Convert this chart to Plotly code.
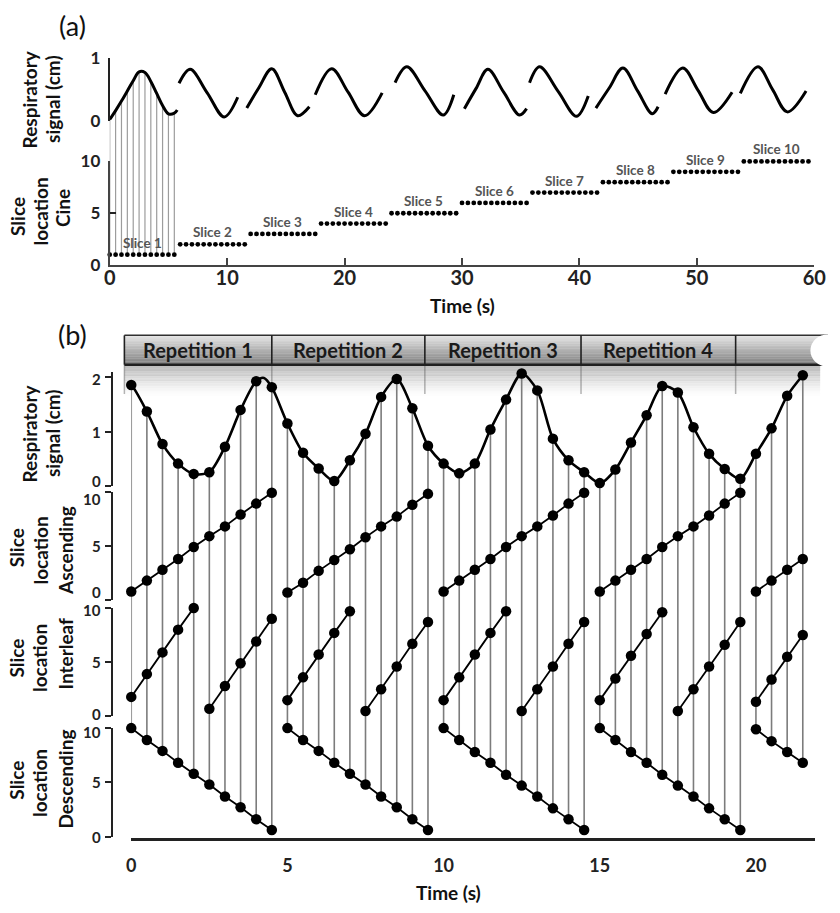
import plotly.graph_objects as go

W, H = 840, 913


def px(x):
    return x / W


def py(y):
    return 1 - y / H


# ======================= DATA : panel (a) =======================
cine_frame_offsets = [0, 0.5, 1, 1.5, 2, 2.5, 3, 3.5, 4, 4.5, 5, 5.5]
cine_slice_starts = [0, 6, 12, 18, 24, 30, 36, 42, 48, 54]
cine_slice_locations = [1, 2, 3, 4, 5, 6, 7, 8, 9, 10]
cine_slice_labels = ["Slice 1", "Slice 2", "Slice 3", "Slice 4", "Slice 5",
                     "Slice 6", "Slice 7", "Slice 8", "Slice 9", "Slice 10"]

# respiratory signal (cm) during each cine slice (one segment per slice)
resp_a_t = [
    [0, 0.5, 1, 1.5, 2, 2.5, 3, 3.5, 4, 4.5, 5, 5.5, 5.75],
    [5.9, 6.85, 8.3, 9.75, 10.9],
    [11.67, 12.7, 13.8, 14.9, 16.0, 17.0],
    [17.5, 18.9, 20.3, 21.7, 23.2],
    [24.3, 25.3, 26.85, 28.4, 29.3],
    [30.2, 31.2, 32.2, 33.55, 34.9, 35.5],
    [35.75, 36.6, 38.2, 39.75, 40.75],
    [41.4, 42.55, 43.7, 44.95, 46.2, 46.7],
    [47.3, 48.8, 50.1, 51.4, 53.0],
    [53.7, 55.2, 56.45, 57.7, 59.3],
]
resp_a_v = [
    [0.03, 0.17, 0.32, 0.48, 0.64, 0.78, 0.77, 0.63, 0.44, 0.25, 0.12, 0.13, 0.18],
    [0.60, 0.82, 0.45, 0.07, 0.38],
    [0.21, 0.53, 0.83, 0.46, 0.09, 0.23],
    [0.42, 0.83, 0.46, 0.09, 0.45],
    [0.61, 0.86, 0.48, 0.10, 0.42],
    [0.20, 0.52, 0.82, 0.46, 0.10, 0.20],
    [0.61, 0.86, 0.47, 0.08, 0.40],
    [0.21, 0.53, 0.84, 0.48, 0.12, 0.23],
    [0.43, 0.84, 0.49, 0.14, 0.46],
    [0.44, 0.86, 0.50, 0.15, 0.48],
]

# ======================= DATA : panel (b) =======================
rep_starts = [0, 5, 10, 15, 20]
rep_labels = ["Repetition 1", "Repetition 2", "Repetition 3", "Repetition 4", ""]
header_bounds_t = [-0.22, 4.5, 9.4, 14.4, 19.35]
frame_offsets_b = [0, 0.5, 1, 1.5, 2, 2.5, 3, 3.5, 4, 4.5]

resp_b = [1.86, 1.37, 0.77, 0.41, 0.22, 0.25, 0.72, 1.40, 1.93, 1.82,
          1.15, 0.61, 0.32, 0.09, 0.47, 0.96, 1.64, 1.97, 1.43, 0.74,
          0.41, 0.23, 0.41, 1.04, 1.59, 2.07, 1.76, 0.87, 0.47, 0.25,
          0.05, 0.30, 0.80, 1.30, 1.84, 1.72, 1.08, 0.59, 0.31, 0.13,
          0.59, 1.06, 1.66, 2.04]
resp_b_extra_t = [-0.12, 4.25]
resp_b_extra_v = [1.88, 1.99]

asc_b = [
    [0.8, 1.8, 2.8, 3.8, 4.9, 5.9, 6.8, 7.9, 8.9, 9.9],
    [0.7, 1.6, 2.7, 3.7, 4.7, 5.8, 6.8, 7.7, 8.8, 9.8],
    [0.8, 1.8, 2.8, 3.8, 4.9, 5.9, 6.8, 7.8, 8.9, 9.9],
    [0.8, 1.8, 2.8, 3.8, 4.9, 5.9, 6.8, 7.8, 8.9, 9.9],
    [0.8, 1.8, 2.8, 3.8],
]
inter_b = [
    [1.8, 3.9, 5.9, 8.0, 10.0, 0.7, 2.8, 4.9, 6.9, 9.0],
    [1.5, 3.6, 5.7, 7.7, 9.7, 0.5, 2.5, 4.6, 6.7, 8.7],
    [1.5, 3.6, 5.7, 7.7, 9.7, 0.5, 2.5, 4.6, 6.7, 8.7],
    [1.5, 3.5, 5.6, 7.6, 9.6, 0.5, 2.5, 4.6, 6.6, 8.7],
    [1.35, 3.4, 5.5, 7.5],
]
desc_b = [
    [10.0, 8.9, 7.9, 6.8, 5.8, 4.8, 3.7, 2.7, 1.6, 0.6],
    [10.0, 8.9, 7.9, 6.8, 5.8, 4.8, 3.7, 2.7, 1.6, 0.6],
    [10.0, 8.9, 7.8, 6.8, 5.7, 4.7, 3.7, 2.6, 1.6, 0.6],
    [10.0, 8.9, 7.8, 6.8, 5.7, 4.7, 3.7, 2.6, 1.6, 0.6],
    [9.9, 8.8, 7.8, 6.8],
]

# y tick labels of panel (b): (value, vertical pixel nudge, positive = down)
resp_ticks = [(2, 2), (1, 0), (0, -4.5)]
asc_ticks = [(10, 7.5), (5, 0), (0, -8)]
inter_ticks = [(10, 2), (5, 0), (0, -2.5)]
desc_ticks = [(10, 3.5), (5, 0), (0, 0)]

# ======================= LAYOUT GEOMETRY (pixels) =======================
FONT = "Lato"
AX_COL = "#222222"

XA = (106, 826, 0, 60)
SIG_A = (113, 48, 0, 1)        # (bottom px, top px, r0, r1)
CINE = (260, 154, 0, 10)
XB = (128, 827, 0, 21.9)
RESP = (486, 375, 0, 2)
RESP_TOP = 2.1
ASC = (603, 492, 0, 10)
INTL = (722, 611, 0, 10)
DESC = (845, 734, 0, 10)
XB_LINE = 848
YB_X = 108


def v2px(v, ax):
    b, t, r0, r1 = ax
    return b + (v - r0) / (r1 - r0) * (t - b)


def t2px(t, ax):
    l, r, r0, r1 = ax
    return l + (t - r0) / (r1 - r0) * (r - l)


fig = go.Figure()

# ---------------- panel (a) traces ----------------
cx, cy = [], []
for k, off in enumerate(cine_frame_offsets):
    t = cine_slice_starts[0] + off
    cx += [t, t, None]
    cy += [v2px(resp_a_v[0][k], SIG_A), v2px(cine_slice_locations[0], CINE), None]
fig.add_trace(go.Scatter(x=cx, y=cy, mode="lines", xaxis="x", yaxis="y",
                         line=dict(color="#9c9c9c", width=1.2), hoverinfo="skip"))

sx, sy = [], []
for ts, vs in zip(resp_a_t, resp_a_v):
    sx += ts + [None]
    sy += vs + [None]
fig.add_trace(go.Scatter(x=sx, y=sy, mode="lines", xaxis="x", yaxis="y2",
                         line=dict(color="black", width=3, shape="spline", smoothing=1.0),
                         hoverinfo="skip"))

dx, dy = [], []
for st, loc in zip(cine_slice_starts, cine_slice_locations):
    for off in cine_frame_offsets:
        dx.append(st + off)
        dy.append(loc)
fig.add_trace(go.Scatter(x=dx, y=dy, mode="markers", xaxis="x", yaxis="y3",
                         marker=dict(color="black", size=4.8), cliponaxis=False,
                         hoverinfo="skip"))

# ---------------- panel (b) traces ----------------
times_b = []
for r, st in enumerate(rep_starts):
    n = len(asc_b[r])
    times_b += [st + o for o in frame_offsets_b[:n]]
desc_flat = [v for rep in desc_b for v in rep]

bx, by = [], []
for t, rv, dv in zip(times_b, resp_b, desc_flat):
    bx += [t, t, None]
    by += [v2px(rv, RESP), v2px(dv, DESC), None]
fig.add_trace(go.Scatter(x=bx, y=by, mode="lines", xaxis="x2", yaxis="y4",
                         line=dict(color="#7c7c7c", width=1.6), hoverinfo="skip"))

curve = sorted(list(zip(times_b, resp_b)) + list(zip(resp_b_extra_t, resp_b_extra_v)))
fig.add_trace(go.Scatter(x=[c[0] for c in curve], y=[c[1] for c in curve], mode="lines",
                         xaxis="x2", yaxis="y5",
                         line=dict(color="black", width=2.6, shape="spline", smoothing=0.8),
                         hoverinfo="skip"))
fig.add_trace(go.Scatter(x=times_b, y=resp_b, mode="markers", xaxis="x2", yaxis="y5",
                         marker=dict(color="black", size=10.5), cliponaxis=False,
                         hoverinfo="skip"))


def rep_groups(series, group_len):
    xs, ys = [], []
    for r, st in enumerate(rep_starts):
        vals = series[r]
        for g in range(0, len(vals), group_len):
            chunk = vals[g:g + group_len]
            xs += [st + frame_offsets_b[g + i] for i in range(len(chunk))] + [None]
            ys += chunk + [None]
    return xs, ys


for series, glen, yax in [(asc_b, 10, "y6"), (inter_b, 5, "y7"), (desc_b, 10, "y8")]:
    xs, ys = rep_groups(series, glen)
    fig.add_trace(go.Scatter(x=xs, y=ys, mode="lines+markers", xaxis="x2", yaxis=yax,
                             line=dict(color="black", width=1.8),
                             marker=dict(color="black", size=10.5), cliponaxis=False,
                             hoverinfo="skip"))

# ---------------- axes ----------------
tickfont_a = dict(family=FONT, size=20, color=AX_COL, weight="bold")
ytickfont_a = dict(family=FONT, size=17, color=AX_COL, weight="bold")
TB_SIZE = 15


def yax_common(**kw):
    d = dict(showgrid=False, zeroline=False, showline=True, linecolor=AX_COL, linewidth=2,
             ticks="outside", ticklen=6, tickwidth=2, tickcolor=AX_COL,
             showticklabels=False, fixedrange=True)
    d.update(kw)
    return d


resp_top_px = v2px(RESP_TOP, RESP)
fig.update_layout(
    width=W, height=H, margin=dict(l=0, r=0, t=0, b=0), autosize=False,
    paper_bgcolor="white", plot_bgcolor="rgba(0,0,0,0)", showlegend=False,
    xaxis=dict(domain=[px(XA[0]), px(XA[1])], range=[XA[2], XA[3]], anchor="y3",
               showgrid=False, zeroline=False, showline=True, linecolor="#444", linewidth=2,
               ticks="inside", ticklen=7, tickwidth=2, tickcolor="#444",
               tickvals=[0, 10, 20, 30, 40, 50, 60], tickfont=tickfont_a,
               ticklabelstandoff=-6, fixedrange=True),
    yaxis=dict(domain=[py(CINE[0]), py(SIG_A[1])], range=[CINE[0], SIG_A[1]],
               anchor="x", visible=False, fixedrange=True),
    yaxis2=yax_common(domain=[py(SIG_A[0]), py(SIG_A[1])], range=[SIG_A[2], SIG_A[3]],
                      anchor="x", tickvals=[0, 1], ticks="inside", showticklabels=True,
                      tickfont=ytickfont_a, ticklabelstandoff=4),
    yaxis3=yax_common(domain=[py(CINE[0]), py(CINE[1])], range=[CINE[2], CINE[3]],
                      anchor="x", tickvals=[0, 5, 10], ticks="inside", showticklabels=True,
                      tickfont=ytickfont_a, ticklabelstandoff=4, linecolor="#444"),
    xaxis2=dict(domain=[px(XB[0]), px(XB[1])], range=[XB[2], XB[3]], anchor="free",
                position=py(XB_LINE), showgrid=False, zeroline=False, showline=True,
                linecolor=AX_COL, linewidth=2.5, ticks="", tickvals=[0, 5, 10, 15, 20],
                tickfont=dict(family=FONT, size=18, color=AX_COL, weight="bold"),
                ticklabelstandoff=9, fixedrange=True),
    yaxis4=dict(domain=[py(XB_LINE), py(RESP[1])], range=[XB_LINE, RESP[1]],
                anchor="x2", visible=False, fixedrange=True),
    yaxis5=yax_common(domain=[py(RESP[0]), py(resp_top_px)], range=[RESP[2], RESP_TOP],
                      anchor="free", position=px(YB_X), tickvals=[0, 1, 2]),
    yaxis6=yax_common(domain=[py(ASC[0]), py(ASC[1])], range=[ASC[2], ASC[3]],
                      anchor="free", position=px(YB_X), tickvals=[0, 5, 10]),
    yaxis7=yax_common(domain=[py(INTL[0]), py(INTL[1])], range=[INTL[2], INTL[3]],
                      anchor="free", position=px(YB_X), tickvals=[0, 5, 10]),
    yaxis8=yax_common(domain=[py(DESC[0]), py(DESC[1])], range=[DESC[2], DESC[3]],
                      anchor="free", position=px(YB_X), tickvals=[0, 5, 10]),
)

# ---------------- header (repetitions) ----------------
shapes = []
hx0 = t2px(header_bounds_t[0], XB)
hx1 = 840
hy0, hy1 = 332, 362
n = 18
for i in range(n):
    f = i / (n - 1)
    c = int(228 - f * (228 - 128))
    y0 = hy0 + (hy1 - hy0) * i / n
    y1 = hy0 + (hy1 - hy0) * (i + 1) / n + 0.3
    shapes.append(dict(type="rect", xref="paper", yref="paper", x0=px(hx0), x1=px(hx1),
                       y0=py(y1), y1=py(y0), fillcolor=f"rgb({c},{c},{c})",
                       line=dict(width=0), layer="below"))
ns = 20
for i in range(ns):
    f = i / (ns - 1)
    a = 0.55 * (1 - f) ** 1.6
    y0 = 363 + 34 * i / ns
    y1 = 363 + 34 * (i + 1) / ns + 0.3
    shapes.append(dict(type="rect", xref="paper", yref="paper", x0=px(hx0), x1=px(hx1 - 8),
                       y0=py(y1), y1=py(y0), fillcolor=f"rgba(140,140,140,{a:.3f})",
                       line=dict(width=0), layer="below"))
shapes.append(dict(type="line", xref="paper", yref="paper", x0=px(hx0), x1=px(hx1),
                   y0=py(hy0), y1=py(hy0), line=dict(color="#303030", width=1.5)))
shapes.append(dict(type="line", xref="paper", yref="paper", x0=px(hx0), x1=px(hx1),
                   y0=py(hy1), y1=py(hy1), line=dict(color="#202020", width=2.5)))
for bt in header_bounds_t:
    bxp = t2px(bt, XB)
    shapes.append(dict(type="line", xref="paper", yref="paper", x0=px(bxp), x1=px(bxp),
                       y0=py(hy1), y1=py(hy0), line=dict(color="#202020", width=1.6)))
    shapes.append(dict(type="line", xref="paper", yref="paper", x0=px(bxp), x1=px(bxp),
                       y0=py(hy1 + 30), y1=py(hy1), line=dict(color="rgba(90,90,90,0.45)", width=1.5),
                       layer="below"))
shapes.append(dict(type="circle", xref="paper", yref="paper", x0=px(822), x1=px(858),
                   y0=py(364), y1=py(331), fillcolor="white", line=dict(width=0)))
fig.update_layout(shapes=shapes)

# ---------------- annotations ----------------
ann = []
for st, loc, lab in zip(cine_slice_starts, cine_slice_locations, cine_slice_labels):
    mid = st + (cine_frame_offsets[0] + cine_frame_offsets[-1]) / 2
    ann.append(dict(x=mid, y=loc, xref="x", yref="y3", text=lab, showarrow=False,
                    yshift=12, font=dict(family=FONT, size=13.5, color="#555555", weight="bold")))

for r in range(4):
    a0 = t2px(header_bounds_t[r], XB)
    a1 = t2px(header_bounds_t[r + 1], XB)
    ann.append(dict(x=px((a0 + a1) / 2), y=py((hy0 + hy1) / 2), xref="paper", yref="paper",
                    text=rep_labels[r], showarrow=False, xanchor="center", yanchor="middle",
                    font=dict(family=FONT, size=20, color="#1a1a1a", weight="bold")))

# y tick labels (b)
for ticks, yref in [(resp_ticks, "y5"), (asc_ticks, "y6"), (inter_ticks, "y7"), (desc_ticks, "y8")]:
    for val, nudge in ticks:
        ann.append(dict(x=px(97), y=val, xref="paper", yref=yref, text=str(val),
                        showarrow=False, xanchor="right", yanchor="middle", yshift=-nudge,
                        borderpad=0, borderwidth=0,
                        font=dict(family=FONT, size=TB_SIZE, color=AX_COL, weight="bold")))

title_font = dict(family=FONT, size=19, color="#111111", weight="bold")
ytitle_lines = [
    ("Respiratory", 24, 90), ("signal (cm)", 48, 90),
    ("Slice", 11, 210), ("location", 35, 205), ("Cine", 58, 202),
    ("Respiratory", 24, 432), ("signal (cm)", 47, 432),
    ("Slice", 11, 549), ("location", 35, 552), ("Ascending", 61, 552),
    ("Slice", 11, 662), ("location", 35, 662), ("Interleaf", 61, 658),
    ("Slice", 11, 787), ("location", 35, 790), ("Descending", 61, 786),
]
for txt, xc, yc in ytitle_lines:
    ann.append(dict(x=px(xc), y=py(yc), xref="paper", yref="paper", text=txt,
                    showarrow=False, textangle=-90, xanchor="center", yanchor="middle",
                    font=title_font))

time_font = dict(family=FONT, size=19, color="#111111", weight="bold")
ann.append(dict(x=px(466), y=py(301), xref="paper", yref="paper", text="Time (s)",
                showarrow=False, xanchor="center", yanchor="middle", font=time_font))
ann.append(dict(x=px(452), y=py(902), xref="paper", yref="paper", text="Time (s)",
                showarrow=False, xanchor="center", yanchor="middle", font=time_font))
ann.append(dict(x=px(68), y=py(15), xref="paper", yref="paper", text="(a)",
                showarrow=False, xanchor="center", yanchor="middle",
                font=dict(family=FONT, size=27, color="#111111")))
ann.append(dict(x=px(68), y=py(331), xref="paper", yref="paper", text="(b)",
                showarrow=False, xanchor="center", yanchor="middle",
                font=dict(family=FONT, size=27, color="#111111")))
fig.update_layout(annotations=ann)

fig.write_html("out.html", config={"displayModeBar": False, "staticPlot": True},
               post_script="document.body.style.margin='0px';")
